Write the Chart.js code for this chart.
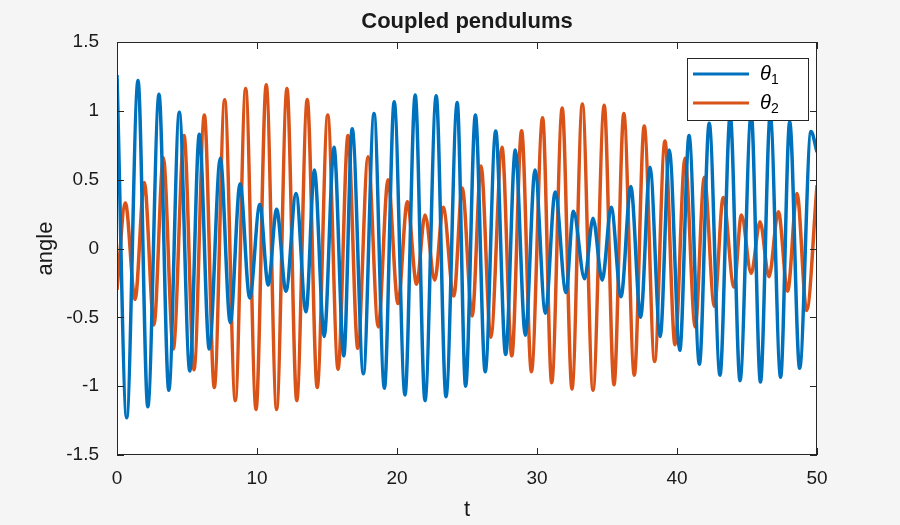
<!DOCTYPE html>
<html><head><meta charset="utf-8">
<script src="https://cdn.jsdelivr.net/npm/chart.js@4/dist/chart.umd.min.js"></script>
<style>html,body{margin:0;padding:0;background:#f5f5f5;}#c{display:block;}</style>
</head><body>
<div style="width:900px;height:525px"><canvas id="c" width="900" height="525"></canvas></div>
<script>
const theta1T = [0,0.69,1.5,2.2,3.0,3.7,4.45,5.2,5.88,6.59,7.38,8.09,8.79,9.48,10.2,10.8,11.4,12.07,12.79,13.5,14.1,14.8,15.5,16.2,16.8,17.6,18.36,19.1,19.8,20.57,21.3,22.0,22.8,23.5,24.3,24.9,25.6,26.3,27.05,27.76,28.45,29.17,29.86,30.6,31.3,32.07,32.6,33.4,34.0,34.66,35.3,36.0,36.7,37.4,38.07,38.8,39.45,40.2,40.86,41.6,42.3,43.07,43.8,44.5,45.3,45.96,46.66,47.4,48.05,48.76,49.57,50];
const theta1V = [1.26,-1.23,1.22,-1.15,1.12,-1.03,0.99,-0.89,0.83,-0.73,0.655,-0.54,0.47,-0.36,0.32,-0.265,0.285,-0.31,0.40,-0.46,0.57,-0.64,0.735,-0.78,0.87,-0.91,0.98,-1.015,1.066,-1.064,1.115,-1.105,1.11,-1.076,1.06,-1.00,0.97,-0.895,0.853,-0.77,0.715,-0.63,0.57,-0.47,0.41,-0.32,0.27,-0.22,0.22,-0.23,0.30,-0.35,0.45,-0.50,0.59,-0.64,0.715,-0.74,0.82,-0.84,0.91,-0.92,0.97,-0.96,0.98,-0.97,0.97,-0.935,0.92,-0.87,0.85,0.7];
const theta2T = [0,0.6,1.29,1.95,2.64,3.31,4.02,4.79,5.5,6.24,6.95,7.69,8.45,9.19,9.93,10.66,11.4,12.14,12.84,13.59,14.3,15.05,15.79,16.5,17.2,17.93,18.66,19.36,20.07,20.74,21.4,22.0,22.7,23.3,24.06,24.66,25.37,26.0,26.7,27.5,28.2,28.9,29.6,30.4,31.05,31.8,32.5,33.24,34.0,34.8,35.5,36.2,36.95,37.66,38.4,39.14,39.86,40.57,41.3,41.95,42.67,43.3,44.07,44.6,45.3,45.93,46.57,47.24,47.9,48.57,49.26,50];
const theta2V = [-0.30,0.33,-0.37,0.48,-0.555,0.66,-0.73,0.82,-0.88,0.97,-1.01,1.08,-1.105,1.163,-1.17,1.19,-1.17,1.163,-1.105,1.083,-1.01,0.97,-0.877,0.82,-0.725,0.667,-0.57,0.50,-0.40,0.34,-0.26,0.243,-0.23,0.30,-0.345,0.44,-0.49,0.60,-0.645,0.735,-0.78,0.855,-0.895,0.95,-0.975,1.02,-1.02,1.05,-1.03,1.04,-0.99,0.98,-0.92,0.89,-0.82,0.78,-0.70,0.655,-0.57,0.517,-0.42,0.37,-0.28,0.243,-0.18,0.195,-0.205,0.267,-0.31,0.40,-0.45,0.46];
const xTicks = [0,10,20,30,40,50];
const yTicks = [-1.5,-1,-0.5,0,0.5,1,1.5];
const seriesNames = ['θ1','θ2'];
const colors = ['#0072BD','#D95319'];

const pts = (T,V)=>T.map((t,i)=>({x:t,y:V[i]}));
const F = 'Helvetica, "Liberation Sans", Arial, sans-serif';

const deco = {
  id:'deco',
  afterDraw(ch){
    const c=ch.ctx, a=ch.chartArea, xs=ch.scales.x, ys=ch.scales.y;
    c.save();
    c.strokeStyle='#262626'; c.lineWidth=1;
    c.strokeRect(a.left+0.5,a.top+0.5,a.right-a.left-1,a.bottom-a.top-1);
    c.beginPath();
    xTicks.forEach(v=>{const p=Math.round(xs.getPixelForValue(v))+0.5;
      c.moveTo(p,a.bottom);c.lineTo(p,a.bottom-7);c.moveTo(p,a.top);c.lineTo(p,a.top+7);});
    yTicks.forEach(v=>{const p=Math.round(ys.getPixelForValue(v))+0.5;
      c.moveTo(a.left,p);c.lineTo(a.left+7,p);c.moveTo(a.right,p);c.lineTo(a.right-7,p);});
    c.stroke();
    c.fillStyle='#1a1a1a';
    c.font='bold 22px '+F; c.textAlign='center'; c.textBaseline='middle';
    c.fillText('Coupled pendulums',(a.left+a.right)/2,22);
    c.font='22px '+F;
    c.fillText('t',(a.left+a.right)/2,510);
    c.save(); c.translate(46,(a.top+a.bottom)/2); c.rotate(-Math.PI/2); c.fillText('angle',0,0); c.restore();
    const lx=687, ly=58, lw=121, lh=62;
    c.fillStyle='#fff'; c.fillRect(lx,ly,lw,lh);
    c.strokeStyle='#262626'; c.lineWidth=1; c.strokeRect(lx+0.5,ly+0.5,lw,lh);
    seriesNames.forEach((n,i)=>{
      const yy=ly+16+i*29;
      c.strokeStyle=colors[i]; c.lineWidth=3;
      c.beginPath(); c.moveTo(lx+6,yy); c.lineTo(lx+62,yy); c.stroke();
      c.fillStyle='#000'; c.textAlign='left';
      c.font='italic 20px '+F; c.fillText(n[0],lx+73,yy);
      c.font='14px '+F; c.fillText(n[1],lx+84,yy+6);
    });
    c.restore();
  }
};

new Chart(document.getElementById('c'),{
  type:'line',
  data:{datasets:[
    {label:seriesNames[0],data:pts(theta1T,theta1V),borderColor:colors[0],borderWidth:3.5,pointRadius:0,cubicInterpolationMode:'monotone',fill:false},
    {label:seriesNames[1],data:pts(theta2T,theta2V),borderColor:colors[1],borderWidth:3.5,pointRadius:0,cubicInterpolationMode:'monotone',fill:false}
  ]},
  options:{
    responsive:false,animation:false,
    layout:{padding:{top:42,right:83,left:0,bottom:0}},
    plugins:{legend:{display:false},tooltip:{enabled:false},title:{display:false}},
    scales:{
      x:{type:'linear',min:0,max:50,
        afterBuildTicks:s=>{s.ticks=xTicks.map(v=>({value:v}));},
        afterFit:s=>{s.height=70;},
        grid:{display:false},border:{display:false},
        ticks:{color:'#1a1a1a',font:{size:19,family:F},padding:4,maxRotation:0}},
      y:{type:'linear',min:-1.5,max:1.5,
        afterBuildTicks:s=>{s.ticks=yTicks.map(v=>({value:v}));},
        afterFit:s=>{s.width=117;},
        grid:{display:false},border:{display:false},
        ticks:{color:'#1a1a1a',font:{size:19,family:F},padding:10,callback:v=>String(v)}}
    }
  },
  plugins:[{id:'bg',beforeDraw(ch){const c=ch.ctx,a=ch.chartArea;c.save();c.fillStyle='#f5f5f5';c.fillRect(0,0,900,525);c.fillStyle='#fff';c.fillRect(a.left,a.top,a.right-a.left,a.bottom-a.top);c.restore();}},deco]
});
</script>
</body></html>
